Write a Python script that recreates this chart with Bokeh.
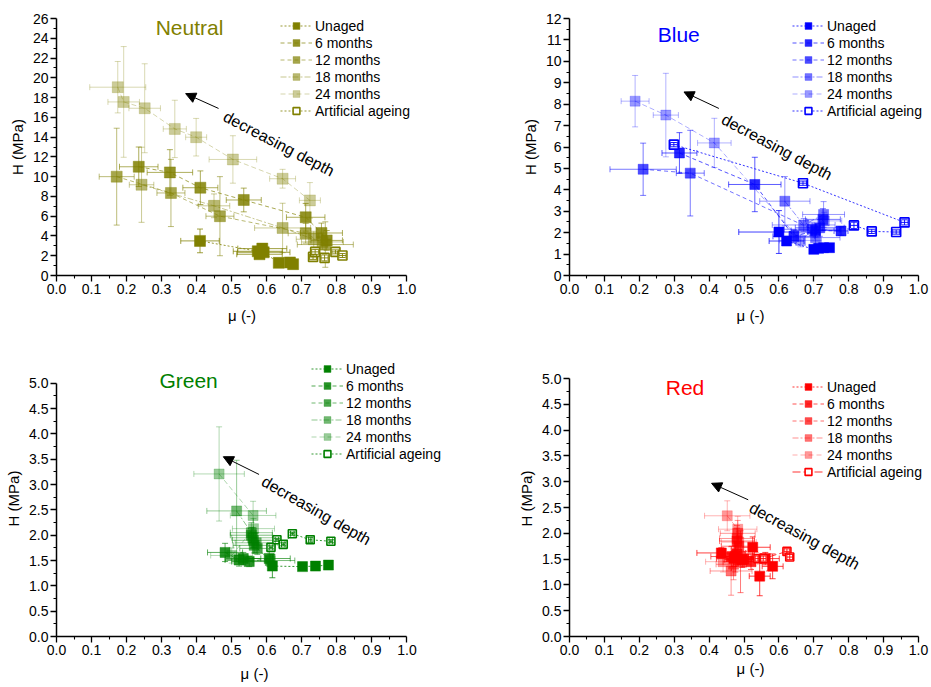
from bokeh.plotting import figure
from bokeh.layouts import column, row
from bokeh.models import (Range1d, FixedTicker, NumeralTickFormatter, Whisker, TeeHead,
                          Legend, LegendItem, Label, Arrow, NormalHead, ColumnDataSource)
from bokeh.embed import file_html
from bokeh.resources import INLINE

FONT = "Liberation Sans"
SERIES_NAMES = ["Unaged", "6 months", "12 months", "18 months", "24 months", "Artificial ageing"]
X_TICKS = [0.0, 0.1, 0.2, 0.3, 0.4, 0.5, 0.6, 0.7, 0.8, 0.9, 1.0]
X_MINOR = [0.05, 0.15, 0.25, 0.35, 0.45, 0.55, 0.65, 0.75, 0.85, 0.95]

# ---------------- Neutral ----------------
neu_unaged_mu = [0.410, 0.575, 0.588, 0.580, 0.592, 0.635, 0.667, 0.676]
neu_unaged_h = [3.50, 2.45, 2.72, 2.15, 2.35, 1.28, 1.32, 1.15]
neu_unaged_mue = [0.055, 0.070, 0.070, 0.065, 0.075, 0.008, 0.008, 0.008]
neu_unaged_he = [1.20, 0.25, 0.30, 0.25, 0.30, 0.10, 0.10, 0.10]
neu_6m_mu = [0.235, 0.324, 0.411, 0.535, 0.712, 0.757, 0.772]
neu_6m_h = [11.0, 10.43, 8.88, 7.64, 5.89, 4.30, 3.55]
neu_6m_mue = [0.055, 0.065, 0.050, 0.050, 0.055, 0.060, 0.045]
neu_6m_he = [2.0, 2.3, 1.7, 1.2, 1.4, 1.0, 1.0]
neu_12m_mu = [0.172, 0.327, 0.467, 0.712, 0.768]
neu_12m_h = [10.0, 8.35, 6.0, 4.27, 3.13]
neu_12m_mue = [0.050, 0.040, 0.040, 0.050, 0.080]
neu_12m_he = [4.9, 3.4, 4.0, 1.0, 2.3]
neu_18m_mu = [0.243, 0.450, 0.646, 0.735, 0.760]
neu_18m_h = [9.18, 7.05, 4.81, 3.67, 3.40]
neu_18m_mue = [0.035, 0.045, 0.080, 0.050, 0.060]
neu_18m_he = [3.8, 1.2, 2.5, 0.8, 0.8]
neu_24m_mu = [0.175, 0.192, 0.252, 0.338, 0.399, 0.504, 0.646, 0.724]
neu_24m_h = [19.05, 17.56, 16.92, 14.83, 13.99, 11.74, 9.79, 7.60]
neu_24m_mue = [0.080, 0.045, 0.045, 0.033, 0.030, 0.068, 0.037, 0.030]
neu_24m_he = [2.6, 5.6, 4.5, 2.9, 1.9, 2.4, 0.95, 1.8]
neu_art_mu = [0.733, 0.739, 0.766, 0.797, 0.817]
neu_art_h = [1.88, 2.39, 1.78, 2.39, 2.02]
neu_art_mue = [0.010, 0.010, 0.010, 0.010, 0.010]
neu_art_he = [0.25, 0.25, 0.30, 0.20, 0.20]

# ---------------- Blue ----------------
blu_unaged_mu = [0.600, 0.622, 0.700, 0.714, 0.728, 0.745]
blu_unaged_h = [2.03, 1.61, 1.22, 1.27, 1.30, 1.30]
blu_unaged_mue = [0.115, 0.050, 0.010, 0.010, 0.010, 0.010]
blu_unaged_he = [1.00, 0.20, 0.05, 0.05, 0.05, 0.05]
blu_6m_mu = [0.315, 0.531, 0.643, 0.705, 0.778]
blu_6m_h = [5.72, 4.25, 1.83, 2.10, 2.08]
blu_6m_mue = [0.050, 0.075, 0.060, 0.070, 0.020]
blu_6m_he = [0.95, 1.27, 0.30, 0.30, 0.20]
blu_12m_mu = [0.211, 0.346, 0.695, 0.717, 0.726]
blu_12m_h = [4.96, 4.78, 2.16, 2.23, 2.62]
blu_12m_mue = [0.095, 0.040, 0.080, 0.070, 0.050]
blu_12m_he = [1.22, 2.00, 0.30, 0.40, 0.50]
blu_18m_mu = [0.617, 0.671, 0.728, 0.705]
blu_18m_h = [3.47, 2.36, 2.85, 1.77]
blu_18m_mue = [0.072, 0.090, 0.060, 0.070]
blu_18m_he = [1.15, 0.30, 0.60, 0.30]
blu_24m_mu = [0.188, 0.276, 0.415, 0.662, 0.730]
blu_24m_h = [8.14, 7.49, 6.19, 1.64, 2.55]
blu_24m_mue = [0.040, 0.036, 0.048, 0.060, 0.050]
blu_24m_he = [1.20, 1.95, 1.15, 0.30, 0.40]
blu_art_mu = [0.299, 0.669, 0.960, 0.936, 0.866, 0.815]
blu_art_h = [6.11, 4.31, 2.48, 2.03, 2.06, 2.34]
blu_art_mue = [0.010, 0.010, 0.010, 0.010, 0.010, 0.010]
blu_art_he = [0.10, 0.10, 0.12, 0.10, 0.10, 0.15]

# ---------------- Green ----------------
grn_unaged_mu = [0.616, 0.702, 0.739, 0.776]
grn_unaged_h = [1.39, 1.38, 1.39, 1.41]
grn_unaged_mue = [0.010, 0.005, 0.005, 0.005]
grn_unaged_he = [0.23, 0.02, 0.02, 0.02]
grn_6m_mu = [0.481, 0.521, 0.533, 0.550, 0.607]
grn_6m_h = [1.66, 1.51, 1.54, 1.48, 1.54]
grn_6m_mue = [0.050, 0.040, 0.050, 0.050, 0.060]
grn_6m_he = [0.18, 0.12, 0.12, 0.10, 0.15]
grn_12m_mu = [0.556, 0.562, 0.564, 0.573, 0.610]
grn_12m_h = [2.00, 1.90, 1.80, 1.74, 1.50]
grn_12m_mue = [0.060, 0.060, 0.060, 0.050, 0.070]
grn_12m_he = [0.15, 0.15, 0.15, 0.12, 0.12]
grn_18m_mu = [0.514, 0.556, 0.560, 0.570]
grn_18m_h = [2.48, 2.05, 1.95, 1.85]
grn_18m_mue = [0.085, 0.060, 0.060, 0.060]
grn_18m_he = [1.00, 0.20, 0.20, 0.20]
grn_24m_mu = [0.464, 0.561, 0.562, 0.500]
grn_24m_h = [3.21, 2.39, 2.13, 1.60]
grn_24m_mue = [0.072, 0.065, 0.060, 0.060]
grn_24m_he = [0.93, 0.28, 0.20, 0.15]
grn_art_mu = [0.612, 0.629, 0.647, 0.673, 0.724, 0.783]
grn_art_h = [1.76, 1.91, 1.82, 2.03, 1.91, 1.88]
grn_art_mue = [0.005, 0.005, 0.005, 0.005, 0.005, 0.005]
grn_art_he = [0.03, 0.03, 0.03, 0.03, 0.05, 0.03]

# ---------------- Red ----------------
red_unaged_mu = [0.435, 0.471, 0.495, 0.525, 0.561, 0.582, 0.545]
red_unaged_h = [1.62, 1.51, 1.49, 1.73, 1.51, 1.36, 1.17]
red_unaged_mue = [0.070, 0.050, 0.050, 0.050, 0.040, 0.030, 0.030]
red_unaged_he = [0.10, 0.15, 0.15, 0.20, 0.12, 0.24, 0.38]
red_6m_mu = [0.465, 0.480, 0.500, 0.520]
red_6m_h = [1.55, 1.60, 1.50, 1.45]
red_6m_mue = [0.060, 0.050, 0.050, 0.050]
red_6m_he = [0.20, 0.20, 0.15, 0.15]
red_12m_mu = [0.480, 0.485, 0.475, 0.490]
red_12m_h = [1.85, 1.75, 1.55, 1.45]
red_12m_mue = [0.050, 0.050, 0.050, 0.050]
red_12m_he = [0.25, 0.20, 0.30, 0.60]
red_18m_mu = [0.482, 0.480, 0.463, 0.470]
red_18m_h = [2.00, 1.90, 1.27, 1.40]
red_18m_mue = [0.050, 0.050, 0.060, 0.050]
red_18m_he = [0.25, 0.25, 0.47, 0.30]
red_24m_mu = [0.452, 0.482, 0.485, 0.440]
red_24m_h = [2.34, 2.08, 1.83, 1.45]
red_24m_mue = [0.065, 0.055, 0.050, 0.050]
red_24m_he = [0.29, 0.25, 0.20, 0.20]
red_art_mu = [0.540, 0.555, 0.623, 0.631]
red_art_h = [1.51, 1.51, 1.65, 1.54]
red_art_mue = [0.008, 0.008, 0.008, 0.008]
red_art_he = [0.05, 0.05, 0.05, 0.05]

ALPHAS = [1.0, 0.85, 0.7, 0.55, 0.4, 1.0]
DASHES = ["2 2", "4 3", "4 3", "6 2 2 2", "5 3", "2 2"]


def build_panel(name, color, series, w, h, borders, ranges, y_end, y_ticks, y_minor, yfmt,
                title_xy, legend_loc, arrow_xy, text_xy, angle, msize, osize,
                xlab_standoff, art_dash="2 2"):
    L, R, T, B = borders
    x_hi, y_hi = ranges
    p = figure(width=w, height=h, x_range=Range1d(0, x_hi), y_range=Range1d(0, y_hi),
               output_backend="svg", toolbar_location=None,
               min_border_left=L, min_border_right=R, min_border_top=T, min_border_bottom=B)
    p.outline_line_color = None
    p.xgrid.visible = False
    p.ygrid.visible = False
    p.background_fill_color = "white"
    p.border_fill_color = "white"

    p.xaxis.ticker = FixedTicker(ticks=X_TICKS, minor_ticks=X_MINOR)
    p.yaxis.ticker = FixedTicker(ticks=y_ticks, minor_ticks=y_minor)
    p.xaxis.bounds = (0, 1)
    p.yaxis.bounds = (0, y_end)
    p.xaxis.formatter = NumeralTickFormatter(format="0.0")
    p.yaxis.formatter = NumeralTickFormatter(format=yfmt)
    for ax in (p.xaxis[0], p.yaxis[0]):
        ax.axis_line_width = 1.5
        ax.axis_line_color = "black"
        ax.major_tick_line_width = 1.3
        ax.minor_tick_line_width = 1.1
        ax.major_tick_out = 6
        ax.major_tick_in = 0
        ax.minor_tick_out = 3
        ax.minor_tick_in = 0
        ax.major_label_text_font = FONT
        ax.major_label_text_font_size = "14px"
        ax.major_label_text_color = "black"
        ax.major_label_standoff = 2
        ax.axis_label_text_font = FONT
        ax.axis_label_text_font_size = "15px"
        ax.axis_label_text_font_style = "normal"
        ax.axis_label_text_color = "black"
    p.xaxis.axis_label = "\u03bc (-)"
    p.yaxis.axis_label = "H (MPa)"
    p.xaxis.axis_label_standoff = xlab_standoff
    p.yaxis.axis_label_standoff = 4

    items = []
    for i, (mu, hh, mue, he) in enumerate(series):
        a = ALPHAS[i]
        src = ColumnDataSource(dict(
            mu=mu, h=hh,
            mu_lo=[m - e for m, e in zip(mu, mue)], mu_hi=[m + e for m, e in zip(mu, mue)],
            h_lo=[v - e for v, e in zip(hh, he)], h_hi=[v + e for v, e in zip(hh, he)]))
        is_art = (i == 5)
        dash = art_dash if is_art else DASHES[i]
        ln = p.line("mu", "h", source=src, line_color=color, line_alpha=a * 0.8,
                    line_width=1, line_dash=dash)
        ea = a * 0.75 if not is_art else 0.9
        lvl = "annotation" if is_art else "underlay"
        for dim, base, lo, hi in (("height", "mu", "h_lo", "h_hi"), ("width", "h", "mu_lo", "mu_hi")):
            wk = Whisker(source=src, base=base, lower=lo, upper=hi, dimension=dim,
                         line_color=color, line_alpha=ea, line_width=1, level=lvl,
                         upper_head=TeeHead(size=6, line_color=color, line_alpha=ea, line_width=1),
                         lower_head=TeeHead(size=6, line_color=color, line_alpha=ea, line_width=1))
            p.add_layout(wk)
        if is_art:
            sc = p.scatter("mu", "h", source=src, marker="square", size=osize,
                           fill_color="white", fill_alpha=1.0, line_color=color, line_width=1.6)
        else:
            sc = p.scatter("mu", "h", source=src, marker="square", size=msize,
                           fill_color=color, fill_alpha=a, line_color=color, line_alpha=a,
                           line_width=0.5)
        items.append(LegendItem(label=SERIES_NAMES[i], renderers=[ln, sc]))

    leg = Legend(items=items, location=legend_loc, background_fill_alpha=0,
                 border_line_color=None, padding=0, margin=0, spacing=0,
                 glyph_width=32, glyph_height=17, label_height=17, label_standoff=3,
                 label_text_font=FONT, label_text_font_size="14px", label_text_color="black")
    p.add_layout(leg)

    p.add_layout(Label(x=title_xy[0], y=title_xy[1], text=name, text_font=FONT,
                       text_font_size="21px", text_color=color, text_align="center",
                       text_baseline="middle"))
    (hx, hy), (tx, ty) = arrow_xy
    p.add_layout(Arrow(end=NormalHead(size=10, fill_color="black", line_color="black"),
                       x_start=tx, y_start=ty, x_end=hx, y_end=hy,
                       line_color="black", line_width=1))
    p.add_layout(Label(x=text_xy[0], y=text_xy[1], text="decreasing depth", angle=angle,
                       text_font=FONT, text_font_size="16px", text_color="black",
                       text_align="left", text_baseline="middle"))
    return p


p1 = build_panel(
    "Neutral", "#808000",
    [(neu_unaged_mu, neu_unaged_h, neu_unaged_mue, neu_unaged_he),
     (neu_6m_mu, neu_6m_h, neu_6m_mue, neu_6m_he),
     (neu_12m_mu, neu_12m_h, neu_12m_mue, neu_12m_he),
     (neu_18m_mu, neu_18m_h, neu_18m_mue, neu_18m_he),
     (neu_24m_mu, neu_24m_h, neu_24m_mue, neu_24m_he),
     (neu_art_mu, neu_art_h, neu_art_mue, neu_art_he)],
    465, 340, (56, 38, 18, 65), (1.06, 26), 26,
    [0, 2, 4, 6, 8, 10, 12, 14, 16, 18, 20, 22, 24, 26],
    [1, 3, 5, 7, 9, 11, 13, 15, 17, 19, 21, 23, 25], "0",
    (0.38, 25.1), (224, 156), ((0.369, 18.4), (0.463, 16.9)), (0.48, 16.2), -0.48,
    11, 9, 10)

p2 = build_panel(
    "Blue", "#0000FF",
    [(blu_unaged_mu, blu_unaged_h, blu_unaged_mue, blu_unaged_he),
     (blu_6m_mu, blu_6m_h, blu_6m_mue, blu_6m_he),
     (blu_12m_mu, blu_12m_h, blu_12m_mue, blu_12m_he),
     (blu_18m_mu, blu_18m_h, blu_18m_mue, blu_18m_he),
     (blu_24m_mu, blu_24m_h, blu_24m_mue, blu_24m_he),
     (blu_art_mu, blu_art_h, blu_art_mue, blu_art_he)],
    466, 340, (104, 0, 17, 65), (1.0372, 12), 12,
    [0, 1, 2, 3, 4, 5, 6, 7, 8, 9, 10, 11, 12],
    [0.5, 1.5, 2.5, 3.5, 4.5, 5.5, 6.5, 7.5, 8.5, 9.5, 10.5, 11.5], "0",
    (0.313, 11.26), (223, 156), ((0.328, 8.57), (0.428, 7.8)), (0.439, 7.35), -0.49,
    10, 9, 10)

p3 = build_panel(
    "Green", "#008000",
    [(grn_unaged_mu, grn_unaged_h, grn_unaged_mue, grn_unaged_he),
     (grn_6m_mu, grn_6m_h, grn_6m_mue, grn_6m_he),
     (grn_12m_mu, grn_12m_h, grn_12m_mue, grn_12m_he),
     (grn_18m_mu, grn_18m_h, grn_18m_mue, grn_18m_he),
     (grn_24m_mu, grn_24m_h, grn_24m_mue, grn_24m_he),
     (grn_art_mu, grn_art_h, grn_art_mue, grn_art_he)],
    465, 347, (56, 13, 18, 49), (1.13, 5.45), 5,
    [0, 0.5, 1.0, 1.5, 2.0, 2.5, 3.0, 3.5, 4.0, 4.5, 5.0],
    [0.25, 0.75, 1.25, 1.75, 2.25, 2.75, 3.25, 3.75, 4.25, 4.75], "0.0",
    (0.377, 5.06), (255, 174), ((0.476, 3.55), (0.578, 3.2)), (0.589, 3.09), -0.52,
    10, 8, 7)

p4 = build_panel(
    "Red", "#FF0000",
    [(red_unaged_mu, red_unaged_h, red_unaged_mue, red_unaged_he),
     (red_6m_mu, red_6m_h, red_6m_mue, red_6m_he),
     (red_12m_mu, red_12m_h, red_12m_mue, red_12m_he),
     (red_18m_mu, red_18m_h, red_18m_mue, red_18m_he),
     (red_24m_mu, red_24m_h, red_24m_mue, red_24m_he),
     (red_art_mu, red_art_h, red_art_mue, red_art_he)],
    466, 347, (104, 0, 20, 51), (1.0372, 5.35), 5,
    [0, 0.5, 1.0, 1.5, 2.0, 2.5, 3.0, 3.5, 4.0, 4.5, 5.0],
    [0.25, 0.75, 1.25, 1.75, 2.25, 2.75, 3.25, 3.75, 4.25, 4.75], "0.0",
    (0.331, 4.83), (223, 156), ((0.407, 2.97), (0.512, 2.65)), (0.519, 2.52), -0.5,
    10, 8, 2, art_dash="8 3")

layout = column(row(p1, p2), row(p3, p4))
open("out.html", "w").write(file_html(layout, INLINE))
